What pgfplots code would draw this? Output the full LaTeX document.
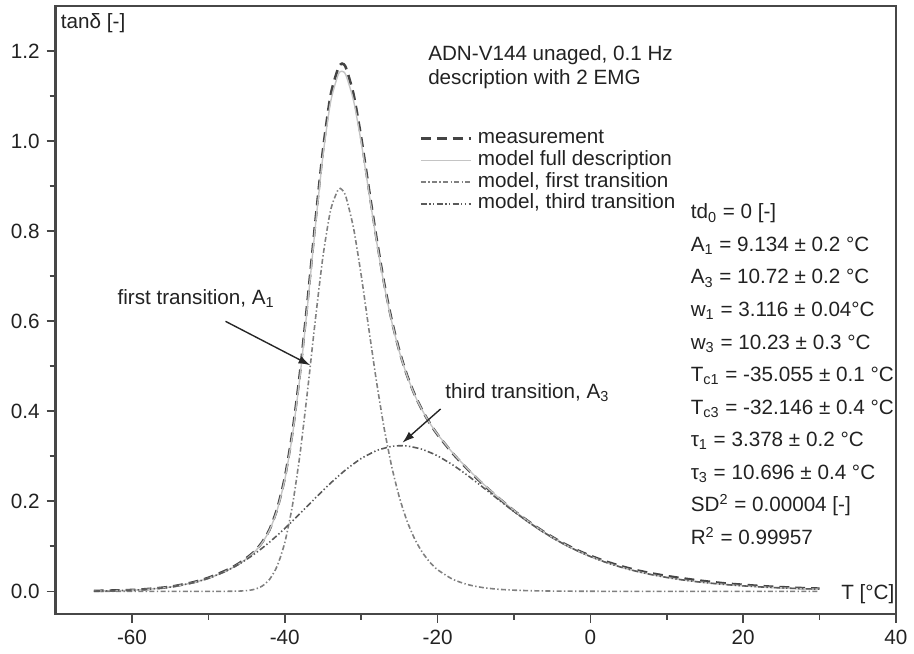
\documentclass[border=0pt]{standalone}
\usepackage{pgfplots}
\usepackage{pgfplotstable}
\pgfplotsset{compat=1.18}
\usepackage{fontspec}
\setmainfont{Liberation Sans}
\usetikzlibrary{arrows.meta}
\definecolor{txt}{HTML}{222222}
\definecolor{meas}{HTML}{444444}
\definecolor{full}{HTML}{C4C4C4}
\definecolor{first}{HTML}{808080}
\definecolor{third}{HTML}{5A5A5A}

\pgfplotstableread{
x      meas    full    t1      t3
-65    0.0008  0.0005  0.0000  0.0005
-62    0.0020  0.0014  0.0000  0.0014
-60    0.0030  0.0025  0.0000  0.0025
-58    0.0050  0.0044  0.0000  0.0044
-55    0.0100  0.0095  0.0000  0.0095
-52    0.0200  0.0191  0.0000  0.0191
-50    0.0300  0.0290  0.0000  0.0290
-48    0.0440  0.0425  0.0000  0.0425
-47    0.0520  0.0510  0.0001  0.0509
-46    0.0620  0.0608  0.0005  0.0603
-45    0.0740  0.0724  0.0015  0.0709
-44    0.0880  0.0869  0.0043  0.0826
-43    0.1080  0.1066  0.0112  0.0954
-42    0.1370  0.1355  0.0263  0.1092
-41    0.1830  0.1800  0.0559  0.1241
-40    0.2520  0.2478  0.1081  0.1397
-39    0.3530  0.3466  0.1905  0.1561
-38    0.4870  0.4787  0.3058  0.1729
-37    0.6480  0.6387  0.4487  0.1900
-36    0.8200  0.8099  0.6027  0.2072
-35    0.9800  0.9681  0.7442  0.2239
-34    1.1020  1.0870  0.8467  0.2403
-33    1.1620  1.1480  0.8925  0.2555
-32.5  1.1720  1.1549  0.8919  0.2630
-32    1.1630  1.1465  0.8763  0.2702
-31    1.1040  1.0899  0.8069  0.2830
-30    1.0080  0.9974  0.7024  0.2950
-29    0.8950  0.8874  0.5833  0.3041
-28    0.7850  0.7791  0.4666  0.3125
-27    0.6850  0.6806  0.3629  0.3177
-26    0.6020  0.5988  0.2769  0.3219
-25    0.5340  0.5320  0.2087  0.3233
-24    0.4800  0.4789  0.1562  0.3227
-23    0.4370  0.4360  0.1165  0.3195
-22    0.4020  0.4020  0.0867  0.3153
-21    0.3730  0.3730  0.0645  0.3085
-20    0.3480  0.3488  0.0480  0.3008
-18    0.3060  0.3072  0.0266  0.2806
-16    0.2700  0.2712  0.0147  0.2565
-14    0.2370  0.2383  0.0081  0.2302
-12    0.2070  0.2078  0.0045  0.2033
-10    0.1790  0.1796  0.0025  0.1771
-8     0.1540  0.1538  0.0014  0.1524
-6     0.1310  0.1307  0.0008  0.1299
-4     0.1110  0.1102  0.0004  0.1098
-2     0.0935  0.0925  0.0002  0.0923
0      0.0790  0.0774  0.0001  0.0773
2      0.0665  0.0645  0.0000  0.0645
4      0.0560  0.0537  0.0000  0.0537
6      0.0470  0.0446  0.0000  0.0446
8      0.0400  0.0371  0.0000  0.0371
10     0.0340  0.0308  0.0000  0.0308
12     0.0290  0.0255  0.0000  0.0255
14     0.0245  0.0212  0.0000  0.0212
16     0.0205  0.0176  0.0000  0.0176
18     0.0170  0.0146  0.0000  0.0146
20     0.0145  0.0121  0.0000  0.0121
22     0.0120  0.0100  0.0000  0.0100
24     0.0100  0.0083  0.0000  0.0083
26     0.0085  0.0069  0.0000  0.0069
28     0.0070  0.0057  0.0000  0.0057
30     0.0060  0.0047  0.0000  0.0047
}\data

\tikzset{lbl/.style={font=\fontsize{10.4}{12}\selectfont, text=txt, inner sep=0pt}}

\begin{document}
\begin{tikzpicture}
\begin{axis}[
  scale only axis, width=423pt, height=306pt,
  xmin=-70, xmax=40, ymin=-0.05, ymax=1.3,
  axis line style={line width=1.2pt, color=black!72},
  xtick={-60,-40,-20,0,20,40},
  ytick={0,0.2,0.4,0.6,0.8,1.0,1.2},
  minor x tick num=1, minor y tick num=1,
  tick align=outside, xtick pos=left, ytick pos=left,
  major tick length=4.5pt, minor tick length=3pt,
  tick style={line width=0.8pt, color=black!72},
  /pgf/number format/assume math mode=true,
  ticklabel style={font=\fontsize{10.4}{12}\selectfont, text=txt},
  yticklabel style={/pgf/number format/fixed, /pgf/number format/precision=1, /pgf/number format/fixed zerofill},
  xticklabel style={/pgf/number format/fixed},
  clip=false,
  legend image code/.code={\draw[#1] (0pt,0pt) -- (25pt,0pt);},
  legend style={at={(axis cs:-22.4,1.031)}, anchor=north west, draw=none, fill=none,
    font=\fontsize{10.4}{11}\selectfont, text=txt, inner sep=0pt, row sep=0pt,
    nodes={inner ysep=0.5pt, inner xsep=3pt, text height=7.5pt, text depth=2.5pt}},
  legend cell align=left,
]
\addplot[meas, line width=1.3pt, dash pattern=on 5pt off 3pt, smooth, tension=0.4] table[x=x, y=meas] {\data};
\addlegendentry{measurement}
\addplot[full, line width=0.7pt, smooth, tension=0.4] table[x=x, y=full] {\data};
\addlegendentry{model full description}
\addplot[first, line width=0.8pt, dash pattern=on 2.5pt off 1.2pt on 0.7pt off 1.2pt, smooth, tension=0.4] table[x=x, y=t1] {\data};
\addlegendentry{model, first transition}
\addplot[third, line width=0.8pt, dash pattern=on 3pt off 1.2pt on 0.7pt off 1.2pt on 0.7pt off 1.2pt, smooth, tension=0.4] table[x=x, y=t3] {\data};
\addlegendentry{model, third transition}

\node[lbl, anchor=base west] at (axis cs:-69.35,1.25) {tanδ [-]};
\node[lbl, anchor=base west] at (axis cs:32.8,-0.0177) {T [°C]};
\node[lbl, anchor=base west] at (axis cs:-21.27,1.1792) {ADN-V144 unaged, 0.1 Hz};
\node[lbl, anchor=base west] at (axis cs:-21.27,1.1261) {description with 2 EMG};

\node[lbl, anchor=base west] at (axis cs:13.1,0.8274) {td\textsubscript{0} = 0 [-]};
\node[lbl, anchor=base west] at (axis cs:13.1,0.7551) {A\textsubscript{1} = 9.134 ± 0.2 °C};
\node[lbl, anchor=base west] at (axis cs:13.1,0.6827) {A\textsubscript{3} = 10.72 ± 0.2 °C};
\node[lbl, anchor=base west] at (axis cs:13.1,0.6104) {w\textsubscript{1} = 3.116 ± 0.04°C};
\node[lbl, anchor=base west] at (axis cs:13.1,0.5381) {w\textsubscript{3} = 10.23 ± 0.3 °C};
\node[lbl, anchor=base west] at (axis cs:13.1,0.4657) {T\textsubscript{c1} = -35.055 ± 0.1 °C};
\node[lbl, anchor=base west] at (axis cs:13.1,0.3934) {T\textsubscript{c3} = -32.146 ± 0.4 °C};
\node[lbl, anchor=base west] at (axis cs:13.1,0.3210) {τ\textsubscript{1} = 3.378 ± 0.2 °C};
\node[lbl, anchor=base west] at (axis cs:13.1,0.2487) {τ\textsubscript{3} = 10.696 ± 0.4 °C};
\node[lbl, anchor=base west] at (axis cs:13.1,0.1763) {SD\textsuperscript{2} = 0.00004 [-]};
\node[lbl, anchor=base west] at (axis cs:13.1,0.1040) {R\textsuperscript{2} = 0.99957};

\node[lbl, anchor=base west] at (axis cs:-61.94,0.637) {first transition, A\textsubscript{1}};
\node[lbl, anchor=base west] at (axis cs:-19.02,0.429) {third transition, A\textsubscript{3}};
\draw[line width=0.7pt, black!85, -{Latex[length=6pt,width=4pt]}] (axis cs:-47.76,0.5996) -- (axis cs:-36.65,0.502);
\draw[line width=0.7pt, black!85, -{Latex[length=6pt,width=4pt]}] (axis cs:-19.6,0.405) -- (axis cs:-24.6,0.33);
\end{axis}
\path (current axis.south west) ++(-28pt,-20pt) coordinate (bl);
\path (current axis.north east) ++(6pt,3pt) coordinate (tr);
\path (bl) rectangle (tr);
\end{tikzpicture}
\end{document}
